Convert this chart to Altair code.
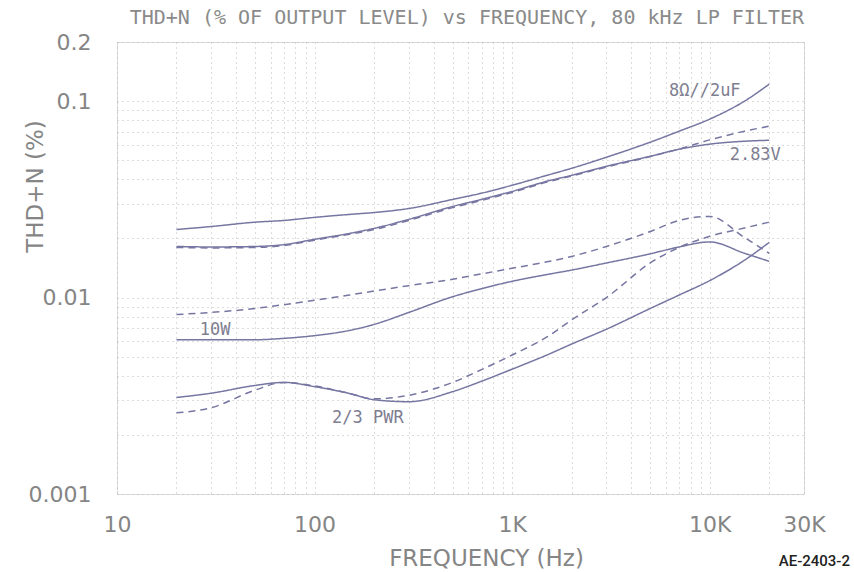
import altair as alt
import pandas as pd

# ---------------- data ----------------
freq = [20, 30, 50, 70, 100, 150, 200, 300, 500, 700, 1000, 1500, 2000,
        3000, 5000, 7000, 10000, 15000, 20000]

load_8ohm_2uf = [0.0222, 0.0230, 0.0242, 0.0247, 0.0256, 0.0265, 0.0271, 0.0284,
                 0.0316, 0.0340, 0.0373, 0.0419, 0.0455, 0.0518, 0.0618, 0.0703,
                 0.0810, 0.1000, 0.1220]
v283_solid = [0.0182, 0.0181, 0.0182, 0.0186, 0.0198, 0.0212, 0.0225, 0.0250,
              0.0291, 0.0316, 0.0347, 0.0391, 0.0419, 0.0466, 0.0524, 0.0569,
              0.0604, 0.0625, 0.0632]
v283_dashed = [0.0180, 0.0179, 0.0180, 0.0184, 0.0196, 0.0210, 0.0222, 0.0247,
               0.0287, 0.0312, 0.0343, 0.0387, 0.0416, 0.0462, 0.0522, 0.0570,
               0.0635, 0.0703, 0.0745]
w10_solid = [0.0061, 0.0061, 0.0061, 0.0062, 0.0064, 0.0068, 0.0073, 0.0084,
             0.0101, 0.0111, 0.0121, 0.0131, 0.0138, 0.0150, 0.0167, 0.0181,
             0.0192, 0.0168, 0.0153]
w10_dashed = [0.0082, 0.0084, 0.0088, 0.0092, 0.0097, 0.0103, 0.0108, 0.0115,
              0.0124, 0.0132, 0.0141, 0.0152, 0.0162, 0.0182, 0.0217, 0.0247,
              0.0259, 0.0202, 0.0168]
pwr23_solid = [0.00310, 0.00326, 0.00357, 0.00370, 0.00352, 0.00325, 0.00302,
               0.00295, 0.00332, 0.00375, 0.00432, 0.00510, 0.00580, 0.00690,
               0.00880, 0.01030, 0.01220, 0.01550, 0.01910]
pwr23_dashed = [0.00259, 0.00275, 0.00338, 0.00370, 0.00355, 0.00325, 0.00305,
                0.00318, 0.00370, 0.00430, 0.00510, 0.00630, 0.00770, 0.01000,
                0.01500, 0.01800, 0.02050, 0.02260, 0.02420]

series_names = ["8ohm_2uF", "2.83V solid", "2.83V dashed", "10W solid",
                "10W dashed", "2/3 PWR solid", "2/3 PWR dashed"]
series_styles = ["solid", "solid", "dashed", "solid", "dashed", "solid", "dashed"]
series_values = [load_8ohm_2uf, v283_solid, v283_dashed, w10_solid, w10_dashed,
                 pwr23_solid, pwr23_dashed]

# curve annotations
label_text = ["8Ω//2uF", "2.83V", "10W", "2/3 PWR"]
label_f = [9440, 17000, 31.4, 186]
label_v = [0.1125, 0.053, 0.00687, 0.00244]

# axis ticks / labels
x_grid = [10, 20, 30, 40, 50, 60, 70, 80, 90,
          100, 200, 300, 400, 500, 600, 700, 800, 900,
          1000, 2000, 3000, 4000, 5000, 6000, 7000, 8000, 9000,
          10000, 20000, 30000]
x_label_vals = [10, 100, 1000, 10000, 30000]
x_label_txt = ["10", "100", "1K", "10K", "30K"]
y_grid = [0.001, 0.002, 0.003, 0.004, 0.005, 0.006, 0.007, 0.008, 0.009,
          0.01, 0.02, 0.03, 0.04, 0.05, 0.06, 0.07, 0.08, 0.09,
          0.1, 0.2]
y_label_vals = [0.001, 0.01, 0.1, 0.2]
y_label_txt = ["0.001", "0.01", "0.1", "0.2"]

# ---------------- build tables ----------------
rows = []
for name, style, vals in zip(series_names, series_styles, series_values):
    for f, v in zip(freq, vals):
        rows.append({"series": name, "style": style, "f": f, "v": v})
df = pd.DataFrame(rows)
lab_df = pd.DataFrame({"label": label_text, "f": label_f, "v": label_v})


def label_expr(vals, txts):
    expr = "''"
    for v, t in reversed(list(zip(vals, txts))):
        expr = f"datum.value == {v} ? '{t}' : ({expr})"
    return expr


FONT = "DejaVu Sans"
MONO = "DejaVu Sans Mono"
LINE = "#7676a2"
TXT = "#858585"

x_enc = alt.X(
    "f:Q",
    scale=alt.Scale(type="log", domain=[10, 30000], nice=False),
    axis=alt.Axis(
        values=x_grid, labelExpr=label_expr(x_label_vals, x_label_txt),
        title="FREQUENCY (Hz)", titleFont=FONT, titleFontSize=23,
        titleFontWeight="normal", titleColor=TXT, titleY=64, titleX=369,
        titleAlign="center", titleBaseline="middle",
        labelFont=FONT, labelFontSize=22, labelColor=TXT, labelPadding=20,
        labelFlush=False, labelOverlap=False, labelBound=False,
        ticks=False, domain=False,
        grid=True, gridColor="#b8b8b8", gridDash=[1, 4], gridWidth=1,
    ),
)
y_enc = alt.Y(
    "v:Q",
    scale=alt.Scale(type="log", domain=[0.001, 0.2], nice=False),
    axis=alt.Axis(
        values=y_grid, labelExpr=label_expr(y_label_vals, y_label_txt),
        title="THD+N (%)", titleFont=FONT, titleFontSize=23,
        titleFontWeight="normal", titleColor=TXT, titleX=-82, titleY=144,
        titleAngle=270, titleAlign="center", titleBaseline="middle",
        labelFont=FONT, labelFontSize=22, labelColor=TXT, labelPadding=26,
        labelFlush=False, labelOverlap=False, labelBound=False,
        ticks=False, domain=False,
        grid=True, gridColor="#b8b8b8", gridDash=[1, 4], gridWidth=1,
    ),
)

lines = alt.Chart(df).mark_line(
    interpolate="monotone", strokeWidth=1.5, color=LINE
).encode(
    x=x_enc,
    y=y_enc,
    detail="series:N",
    strokeDash=alt.StrokeDash(
        "style:N",
        scale=alt.Scale(domain=["solid", "dashed"], range=[[1, 0], [7, 5]]),
        legend=None,
    ),
)

labels = alt.Chart(lab_df).mark_text(
    font=MONO, fontSize=17, color="#7e7e90", align="center", baseline="middle"
).encode(x=x_enc, y=y_enc, text="label:N")

fig_id = alt.Chart(pd.DataFrame({"t": ["AE-2403-2"]})).mark_text(
    font="Roboto", fontSize=15, fontWeight=500, color="#222222", align="right",
    baseline="middle", clip=False
).encode(x=alt.value(733), y=alt.value(519), text="t:N")

chart = alt.layer(lines, labels, fig_id).properties(
    width=687,
    height=452,
    padding={"left": 117, "top": 42, "right": 50, "bottom": 78},
    autosize=alt.AutoSizeParams(type="none"),
    title=alt.TitleParams(
        "THD+N (% OF OUTPUT LEVEL) vs FREQUENCY, 80 kHz LP FILTER",
        font=MONO, fontSize=20, fontWeight="normal", color="#8a8a8a",
        anchor="end", frame="group", offset=3,
    ),
).configure_view(
    stroke="#7a7a7a", strokeWidth=2
).configure(background="white")

chart.save("out.html", embed_options={"renderer": "svg", "actions": False})
